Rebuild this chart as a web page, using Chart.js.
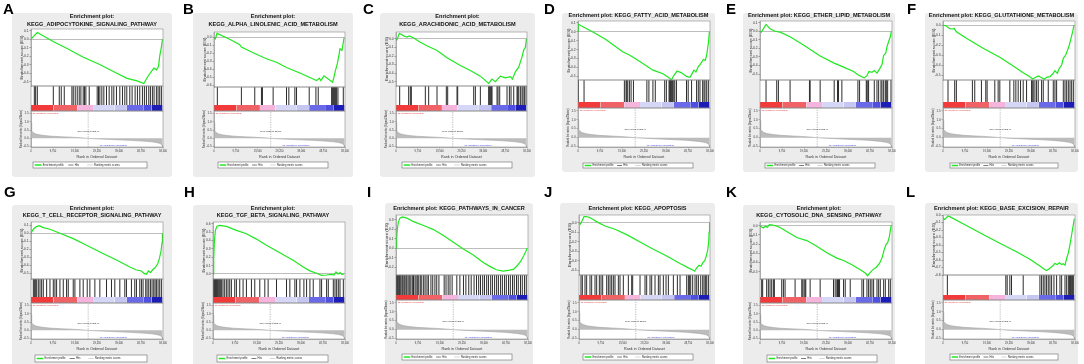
<!DOCTYPE html>
<html><head><meta charset="utf-8">
<script src="https://cdn.jsdelivr.net/npm/chart.js@4/dist/chart.umd.min.js"></script>
<style>
html,body{margin:0;padding:0;background:#fff;}
#wrap{position:relative;width:1084px;height:364px;overflow:hidden;background:#fff;}
#wrap canvas{position:absolute;}
</style></head><body><div id="wrap"></div>
<script>
// ---------------- DATA ----------------
const panelLetters = ['A','B','C','D','E','F','G','H','I','J','K','L'];
const geneSets = ['KEGG_ADIPOCYTOKINE_SIGNALING_PATHWAY','KEGG_ALPHA_LINOLENIC_ACID_METABOLISM','KEGG_ARACHIDONIC_ACID_METABOLISM','KEGG_FATTY_ACID_METABOLISM','KEGG_ETHER_LIPID_METABOLISM','KEGG_GLUTATHIONE_METABOLISM','KEGG_T_CELL_RECEPTOR_SIGNALING_PATHWAY','KEGG_TGF_BETA_SIGNALING_PATHWAY','KEGG_PATHWAYS_IN_CANCER','KEGG_APOPTOSIS','KEGG_CYTOSOLIC_DNA_SENSING_PATHWAY','KEGG_BASE_EXCISION_REPAIR'];

const esRankA = [0,1000,2800,10000,16000,23000,30700,38000,42600,47000,50000,51500,53300,54500,55600,56500,57100,57800,58250];
const esScoreA = [0,0.03,0.078,-0.03,-0.11,-0.21,-0.30,-0.40,-0.46,-0.49,-0.52,-0.45,-0.38,-0.34,-0.36,-0.32,-0.19,-0.09,0.0];
const hitsA = [1470,2060,2800,9880,12530,13410,14740,18130,18720,19600,20490,21370,22110,23140,23730,24320,25800,29330,29920,30510,31400,32280,33460,34640,35820,36700,37880,39360,40540,41570,42450,43780,44810,46140,47170,48200,49380,50260,51150,52180,52920,53800,54540,55570,56310,57040,57780];

const esRankB = [0,600,1340,7010,11490,12230,17460,23420,27900,32380,38340,44310,45800,47000,47740,49090,51030,52970,53560,54160,55050,55800,56250,57140,57740,58100];
const esScoreB = [0,-0.016,0.053,-0.02,-0.09,-0.12,-0.19,-0.265,-0.31,-0.375,-0.445,-0.52,-0.54,-0.51,-0.54,-0.48,-0.52,-0.56,-0.50,-0.42,-0.33,-0.22,-0.14,-0.16,-0.06,0.0];
const hitsB = [1490,12230,18200,21190,21630,26410,32380,33420,36110,36850,42520,45510,46550,52520,52970,53410,53860,54310,54760,55350,57740];

const esRankC = [0,450,1490,3420,4910,5960,7890,10870,13850,18310,22780,28740,33200,37670,41390,42880,44370,46610,48840,51070,51970,53310,54800,56280,57030,57770,58250];
const esScoreC = [0,-0.01,0.065,0.035,0.02,0.035,0.01,-0.04,-0.08,-0.135,-0.22,-0.31,-0.37,-0.435,-0.52,-0.47,-0.50,-0.435,-0.455,-0.44,-0.47,-0.385,-0.33,-0.21,-0.13,-0.10,0.0];
const hitsC = [1640,5660,6400,6850,13100,14590,18310,22480,23080,27250,27550,34690,35440,37670,41390,41690,42140,42590,42880,45120,45560,46310,49580,50630,51370,52570,54050,54350,54800,55540,56280,56730,57330,58070];

const esRankD = [0,150,1190,6400,12360,19800,22780,27250,33200,37670,40350,41390,42440,43930,45860,48090,49580,50330,51370,52260,53310,54350,55540,56430,57030,57770,58220];
const esScoreD = [0,0.086,0.07,0.0,-0.086,-0.225,-0.26,-0.33,-0.43,-0.47,-0.515,-0.54,-0.49,-0.44,-0.46,-0.50,-0.51,-0.48,-0.43,-0.45,-0.39,-0.36,-0.31,-0.32,-0.26,-0.13,0.0];
const hitsD = [150,2680,20550,21290,21590,22040,22780,23530,24570,30520,31420,33200,34250,38420,39160,40350,40650,40950,41390,41840,42440,42880,43630,48090,48840,50330,52560,53310,54050,55240,55840,56280,57030,57770];

const esRankE = [0,590,2670,4440,6660,8890,13330,19250,26660,32580,37030,41470,43690,46210,47390,48280,49610,50650,51840,53020,54060,54800,55690,56280,57020,57760,58200];
const esScoreE = [0,-0.01,0.08,0.03,0.0,-0.01,-0.065,-0.16,-0.29,-0.37,-0.42,-0.47,-0.515,-0.545,-0.52,-0.47,-0.48,-0.46,-0.49,-0.44,-0.39,-0.28,-0.26,-0.18,-0.12,-0.065,0.0];
const hitsE = [2670,7410,8150,13330,21920,22220,26660,32880,34360,34800,36280,43390,44130,47100,47390,47840,48130,50650,51840,52580,53610,54060,54800,55540,55980,56570,58050];

const esRankF = [0,1480,2960,4440,4890,5920,10370,17770,25180,31100,35540,38510,39690,40730,42210,43690,44880,45910,47390,48580,49610,50650,51540,52580,53320,54350,55240,55990,56730,57470,58060];
const esScoreF = [0,-0.01,-0.037,-0.04,-0.033,-0.067,-0.133,-0.233,-0.323,-0.41,-0.477,-0.517,-0.54,-0.527,-0.51,-0.527,-0.543,-0.523,-0.517,-0.49,-0.457,-0.483,-0.433,-0.40,-0.333,-0.30,-0.25,-0.20,-0.133,-0.067,0.0];
const hitsF = [2220,5180,5920,13030,14070,17030,18960,19550,22960,24440,25180,29620,31400,32290,33320,34360,35540,37030,39250,39540,39990,40730,41470,42210,43690,44430,46650,48870,49610,50350,53320,54060,54800,55540,56280,57020,57760];

const esRankG = [0,1030,2210,3690,5450,8400,12820,18720,24620,30510,37880,43780,46730,48940,50120,51150,52030,52920,53800,54980,56160,56900,57630,58080,58250];
const esScoreG = [0,0.05,0.08,0.095,0.07,0.05,0.0,-0.067,-0.15,-0.233,-0.333,-0.42,-0.458,-0.47,-0.50,-0.51,-0.47,-0.49,-0.458,-0.43,-0.38,-0.317,-0.22,-0.117,0.0];
const hitsG = [1030,1470,1920,2510,3240,3980,4720,5450,6930,8400,9880,10610,11350,12820,14300,15770,16510,18720,19460,21670,23140,24910,26090,28300,30510,33460,35670,37140,39360,41570,42300,44510,45990,46730,48200,48940,49670,50850,51440,52180,52920,53650,54390,54980,55570,56310,57040,57780];

const esRankH = [0,300,590,1040,1780,2960,5920,10370,14810,19250,23700,29620,35540,39990,42950,45910,48130,50350,52580,53610,54500,55390,56280,57170,58060];
const esScoreH = [0,0.17,0.375,0.52,0.57,0.58,0.567,0.52,0.48,0.416,0.343,0.253,0.163,0.082,0.037,0.008,-0.016,-0.012,-0.004,-0.012,0.024,0.0,0.016,-0.008,0.004];
const hitsH = [300,590,890,1180,1480,1780,2070,2520,2960,3410,3850,4440,5180,5920,6660,7410,8150,9630,10370,11850,13330,14810,17030,18510,20730,22960,24440,28140,32580,34060,36280,37030,38510,40280,41470,42950,44430,47390,48130,50350,51100,53320,54060,54800,55540,56280,57760];

const esRankI = [0,290,590,1030,1760,2790,4850,7790,12200,16610,21020,25430,29840,34250,38660,42340,44540,47480,50420,52190,53660,55130,56600,57480,58070];
const esScoreI = [0,0.1,0.2,0.275,0.317,0.33,0.317,0.28,0.24,0.197,0.134,0.063,-0.007,-0.07,-0.148,-0.2,-0.225,-0.24,-0.229,-0.218,-0.183,-0.14,-0.077,-0.035,0.0];
const hitsI = [150,420,760,1010,1480,1790,2180,2700,3050,3560,3930,4460,4820,5400,6080,6590,7230,7760,8430,8920,9610,10090,10780,11420,12260,12900,13720,14350,15480,16280,17240,18050,19020,21350,22170,23120,23930,24880,26950,28310,29900,30970,32240,33320,34600,35680,36640,37450,38410,39210,40180,40970,41950,42730,43700,44590,45380,46350,47150,48110,48900,49870,50680,51640,52430,53400,54190,55170,55970,56930,57730];

const esRankJ = [0,600,1490,2230,3130,4620,6100,8640,11610,16080,21290,27250,33200,39160,45120,48840,50770,51670,52560,53600,54500,55240,56130,56880,57470,57920,58100,58300];
const esScoreJ = [0,-0.017,0.024,0.063,0.063,0.056,0.035,0.0,-0.035,-0.07,-0.126,-0.203,-0.28,-0.35,-0.43,-0.475,-0.497,-0.51,-0.476,-0.448,-0.458,-0.423,-0.399,-0.35,-0.29,-0.2,-0.1,0.0];
const hitsJ = [890,1490,2680,3420,4910,5660,7150,7890,9080,9830,10570,12360,13100,13850,14590,15340,16080,17570,18310,19800,22040,23530,23970,27250,29480,30220,31710,32460,33950,35440,36180,37670,38860,39910,42140,43930,45120,48090,48840,49290,49880,50770,51820,52560,53310,54350,55240,55840,56430,57030,57770];

const esRankK = [0,740,1480,2520,3260,4150,5630,7410,9630,12590,16290,20730,25180,29620,34060,37030,40730,44430,46650,47690,48870,50060,51540,53020,54210,54950,55840,56570,57320,57910,58200];
const esScoreK = [0,-0.015,-0.026,-0.004,-0.018,0.011,0.007,-0.004,-0.03,-0.074,-0.129,-0.162,-0.224,-0.294,-0.353,-0.379,-0.426,-0.48,-0.515,-0.544,-0.507,-0.478,-0.452,-0.408,-0.342,-0.268,-0.206,-0.184,-0.121,-0.03,0.007];
const hitsK = [740,1180,2960,3700,4440,5180,5920,6370,9630,10370,11110,15550,18510,18960,19550,19990,20290,22220,26660,32580,33320,34060,34360,34800,35250,37030,37770,39990,45170,45910,47390,48130,48870,49610,50350,51840,52580,53320,54800,55540,57020,57760];

const esRankL = [0,740,2220,2960,10370,17770,25180,32580,38510,42950,44730,45910,47100,48580,49610,50650,51540,52580,53320,54060,54800,55540,56280,57020,57760,58200];
const esScoreL = [0,-0.018,0.027,0.018,-0.10,-0.22,-0.336,-0.45,-0.55,-0.64,-0.68,-0.70,-0.677,-0.64,-0.606,-0.62,-0.597,-0.62,-0.61,-0.628,-0.54,-0.465,-0.354,-0.22,-0.088,-0.01];
const hitsL = [1930,27840,28440,29620,30360,35540,42950,43690,44430,45170,45910,46650,47390,48130,49170,50350,51840,52580,54060,54800,55540,55980,56280,56570,57020,57460,57760];

// ranked list metric (shared ranked list)
const rankPositions = [0,150,400,900,1800,3500,6000,9000,13000,18000,22000,25341,29000,34000,39000,44000,48000,51000,53500,55500,56800,57600,58100,58300];
const rankMetric = [0.95,0.6,0.45,0.36,0.28,0.22,0.17,0.13,0.1,0.07,0.035,0.0,-0.03,-0.06,-0.09,-0.12,-0.15,-0.18,-0.21,-0.25,-0.29,-0.34,-0.42,-0.5];
const zeroCross = 25341;
const colorBarStops = [0,10000,20500,27500,37000,42500,50000,53500,58300];
const legendLabels = ['Enrichment profile','Hits','Ranking metric scores'];

const esData = {A:[esRankA,esScoreA,hitsA],B:[esRankB,esScoreB,hitsB],C:[esRankC,esScoreC,hitsC],D:[esRankD,esScoreD,hitsD],E:[esRankE,esScoreE,hitsE],F:[esRankF,esScoreF,hitsF],G:[esRankG,esScoreG,hitsG],H:[esRankH,esScoreH,hitsH],I:[esRankI,esScoreI,hitsI],J:[esRankJ,esScoreJ,hitsJ],K:[esRankK,esScoreK,hitsK],L:[esRankL,esScoreL,hitsL]};

// ---------------- STYLE / LAYOUT ----------------
const colorBarColors = ['#f23a3a','#f06266','#f5b4dc','#d6d6f6','#c6c6f2','#6a6ae8','#4e4ee2','#1c1cb6'];
const GEO = {
 A:{lx:3, box:[12,13,172,177], ty:[16,24], pl:31, pr:163, et:29, eb:86, hb:105, cb:111, rb:147, lg:[33,162,147,168], es:[-0.55,0.12]},
 B:{lx:3, box:[13,13,173,177], ty:[16,24], pl:34, pr:165, et:32, eb:87, hb:105, cb:111, rb:147, lg:[38,162,148,168], es:[-0.62,0.07]},
 C:{lx:3, box:[20,13,175,177], ty:[16,24], pl:36, pr:167, et:32, eb:86, hb:105, cb:111, rb:147, lg:[42,162,152,168], es:[-0.55,0.08]},
 D:{lx:4, box:[22,13,175,172], ty:[15], pl:38, pr:170, et:21, eb:80, hb:102, cb:108, rb:147, lg:[43,163,153,168], es:[-0.54,0.12]},
 E:{lx:6, box:[23,13,175,172], ty:[15], pl:40, pr:172, et:21, eb:80, hb:102, cb:108, rb:147, lg:[45,163,155,168], es:[-0.57,0.12]},
 F:{lx:7, box:[25,13,178,172], ty:[15], pl:43, pr:175, et:21, eb:80, hb:102, cb:108, rb:147, lg:[50,163,158,168], es:[-0.55,0.04]},
 G:{lx:4, box:[12,23,172,190], ty:[26,33], pl:31, pr:163, et:40, eb:97, hb:115, cb:121, rb:157, lg:[35,173,147,180], es:[-0.57,0.14]},
 H:{lx:4, box:[13,23,173,190], ty:[26,33], pl:33, pr:165, et:40, eb:97, hb:115, cb:121, rb:157, lg:[37,173,148,180], es:[-0.06,0.62]},
 I:{lx:7, box:[25,21,173,190], ty:[26], pl:36, pr:168, et:33, eb:93, hb:113, cb:118, rb:157, lg:[42,172,152,178], es:[-0.28,0.35]},
 J:{lx:4, box:[20,21,175,190], ty:[26], pl:39, pr:170, et:33, eb:93, hb:113, cb:118, rb:157, lg:[43,172,153,178], es:[-0.55,0.08]},
 K:{lx:6, box:[23,23,175,190], ty:[26,33], pl:40, pr:172, et:40, eb:97, hb:115, cb:121, rb:157, lg:[47,173,157,180], es:[-0.58,0.04]},
 L:{lx:6, box:[25,21,178,190], ty:[26], pl:43, pr:175, et:33, eb:93, hb:113, cb:118, rb:157, lg:[50,172,158,178], es:[-0.76,0.04]}
};
const FAM = '"Liberation Sans", Arial, Helvetica, sans-serif';
Chart.defaults.font.family = FAM;
const X_MAX = 58500, RANK_MIN = -0.52, RANK_MAX = 1.65, YW = 12, XH = 12;
const fmt1 = v => (Math.abs(v) < 1e-9 ? 0 : v).toFixed(1);

function rrect(ctx, x0, y0, x1, y1, r) {
  ctx.beginPath();
  ctx.moveTo(x0 + r, y0); ctx.lineTo(x1 - r, y0); ctx.quadraticCurveTo(x1, y0, x1, y0 + r);
  ctx.lineTo(x1, y1 - r); ctx.quadraticCurveTo(x1, y1, x1 - r, y1);
  ctx.lineTo(x0 + r, y1); ctx.quadraticCurveTo(x0, y1, x0, y1 - r);
  ctx.lineTo(x0, y0 + r); ctx.quadraticCurveTo(x0, y0, x0 + r, y0); ctx.closePath();
}

function makePanel(idx) {
  const id = panelLetters[idx], g = GEO[id];
  const col = idx % 6, row = Math.floor(idx / 6);
  const W = col === 5 ? 184 : 180, H = 182;
  const cv = document.createElement('canvas');
  cv.width = W; cv.height = H;
  cv.style.left = (col * 180) + 'px'; cv.style.top = (row * 182) + 'px';
  cv.style.width = W + 'px'; cv.style.height = H + 'px';
  document.getElementById('wrap').appendChild(cv);
  const [esX, esY, hits] = esData[id];

  const datasets = [];
  datasets.push({type:'line', label:legendLabels[0], data: esX.map((x,i)=>({x, y: esY[i]})), yAxisID:'yES',
    borderColor:'#1fe81f', borderWidth:1.2, pointRadius:0, tension:0, fill:false});
  datasets.push({type:'bar', label:legendLabels[1], data: hits.map(x=>({x, y:1})), yAxisID:'yHit',
    backgroundColor:'#2c2c2c', barThickness:1, inflateAmount:0, grouped:false, borderWidth:0});
  colorBarColors.forEach((c,i)=> datasets.push({type:'line', label:'bar'+i,
    data:[{x:colorBarStops[i],y:1},{x:colorBarStops[i+1],y:1}], yAxisID:'yBar',
    borderWidth:0, pointRadius:0, fill:'origin', backgroundColor:c}));
  datasets.push({type:'line', label:legendLabels[2], data: rankPositions.map((x,i)=>({x, y: rankMetric[i]})), yAxisID:'yRank',
    borderColor:'#a2a2a2', borderWidth:0.6, pointRadius:0, fill:{value:0}, backgroundColor:'#bcbcbc', tension:0});
  datasets.push({type:'line', label:'zero', data:[{x:zeroCross,y:RANK_MIN},{x:zeroCross,y:RANK_MAX}], yAxisID:'yRank',
    borderColor:'#8c8c8c', borderWidth:0.6, borderDash:[1.2,1.2], pointRadius:0, fill:false});

  const fixW = s => { s.width = YW; };
  const decor = {
    id:'decor'+id,
    beforeDraw(chart) {
      const ctx = chart.ctx, ca = chart.chartArea;
      ctx.save();
      ctx.fillStyle = '#ececec';
      rrect(ctx, g.box[0], g.box[1], g.box[2], g.box[3], 3); ctx.fill();
      ctx.fillStyle = '#ffffff';
      ctx.fillRect(ca.left, ca.top, ca.right - ca.left, ca.bottom - ca.top);
      ctx.fillStyle = '#000';
      ctx.font = 'bold 15px ' + FAM; ctx.textAlign = 'left'; ctx.textBaseline = 'alphabetic';
      ctx.fillText(id, g.lx, row ? 15 : 14);
      ctx.fillStyle = '#111'; ctx.font = 'bold 5.6px ' + FAM; ctx.textAlign = 'center'; ctx.textBaseline = 'middle';
      const cx = (g.box[0] + g.box[2]) / 2;
      if (g.ty.length === 2) { ctx.fillText('Enrichment plot:', cx, g.ty[0]); ctx.fillText(geneSets[idx], cx, g.ty[1]); }
      else ctx.fillText('Enrichment plot: ' + geneSets[idx], cx, g.ty[0]);
      ctx.restore();
    },
    afterDraw(chart) {
      const ctx = chart.ctx, ca = chart.chartArea, s = chart.scales;
      ctx.save();
      ctx.strokeStyle = '#8a8a8a'; ctx.lineWidth = 0.6;
      const w = ca.right - ca.left;
      ctx.strokeRect(ca.left, s.yES.top, w, s.yES.bottom - s.yES.top);
      ctx.strokeRect(ca.left, s.yHit.top, w, s.yBar.bottom - s.yHit.top);
      ctx.strokeRect(ca.left, s.yRank.top, w, s.yRank.bottom - s.yRank.top);
      // annotations in ranked plot
      ctx.font = '2.4px ' + FAM; ctx.textAlign = 'center'; ctx.textBaseline = 'middle'; ctx.fillStyle = '#333';
      ctx.fillText('Zero cross at ' + zeroCross, s.x.getPixelForValue(zeroCross), s.yRank.getPixelForValue(0.45));
      ctx.textAlign = 'left'; ctx.textBaseline = 'top'; ctx.fillStyle = '#e23030';
      ctx.fillText("'t2' (positively correlated)", ca.left + 1.5, s.yRank.top + 0.8);
      ctx.textBaseline = 'bottom'; ctx.fillStyle = '#3434e0';
      ctx.fillText("'t1' (negatively correlated)", s.x.getPixelForValue(30500), s.yRank.bottom - 0.8);
      // legend
      const [x0,y0,x1,y1] = g.lg, lw = x1 - x0, ym = (y0 + y1) / 2;
      ctx.fillStyle = '#fff'; ctx.fillRect(x0, y0, lw, y1 - y0);
      ctx.strokeStyle = '#6a6a6a'; ctx.lineWidth = 0.6; ctx.strokeRect(x0, y0, lw, y1 - y0);
      const items = [[0.015,0.075,'#1fe81f',1.5],[0.31,0.355,'#222',0.6],[0.475,0.525,'#c4c4c4',0.7]];
      ctx.font = '2.6px ' + FAM; ctx.textBaseline = 'middle'; ctx.fillStyle = '#222';
      items.forEach((it,k) => {
        ctx.strokeStyle = it[2]; ctx.lineWidth = it[3];
        ctx.beginPath(); ctx.moveTo(x0 + lw*it[0], ym); ctx.lineTo(x0 + lw*it[1], ym); ctx.stroke();
        ctx.fillText(legendLabels[k], x0 + lw*it[1] + 1.2, ym);
      });
      ctx.restore();
    }
  };

  new Chart(cv, {
    type:'line',
    data:{datasets},
    options:{
      responsive:false, animation:false, devicePixelRatio:1,
      layout:{padding:{left: g.pl - YW, top: g.et, right: W - g.pr, bottom: H - g.rb - XH}},
      plugins:{legend:{display:false}, title:{display:false}, tooltip:{enabled:false}},
      scales:{
        x:{type:'linear', position:'bottom', min:0, max:X_MAX, offset:false,
           afterFit: s => { s.height = XH; },
           ticks:{stepSize:10000, includeBounds:false, autoSkip:false, maxRotation:0, padding:0.8,
                  font:{size:2.6}, color:'#333', callback: v => v.toLocaleString('en-US')},
           grid:{display:true, offset:false, drawOnChartArea:false, drawTicks:true, tickLength:1.5, color:'#777', lineWidth:0.5},
           border:{display:true, color:'#8a8a8a', width:0.6},
           title:{display:true, text:'Rank in Ordered Dataset', font:{size:3.7}, color:'#333', padding:0}},
        yRank:{type:'linear', position:'left', stack:'p', stackWeight: g.rb - g.cb, weight:1,
           min:RANK_MIN, max:RANK_MAX, afterFit: fixW,
           ticks:{stepSize:0.5, includeBounds:false, autoSkip:false, font:{size:3}, color:'#333', padding:0.8, callback: fmt1},
           grid:{drawOnChartArea:false, drawTicks:true, tickLength:1.5, color:'#777', lineWidth:0.5},
           border:{display:true, color:'#8a8a8a', width:0.6},
           title:{display:true, text:'Ranked list metric (Signal2Noise)', font:{size:2.6}, color:'#333', padding:{top:0.5,bottom:0}}},
        yBar:{type:'linear', position:'left', stack:'p', stackWeight: g.cb - g.hb, weight:2, min:0, max:1,
           afterFit: fixW, ticks:{display:false}, grid:{display:false}, border:{display:false}},
        yHit:{type:'linear', position:'left', stack:'p', stackWeight: g.hb - g.eb, weight:3, min:0, max:1,
           afterFit: fixW, ticks:{display:false}, grid:{display:false}, border:{display:false}},
        yES:{type:'linear', position:'left', stack:'p', stackWeight: g.eb - g.et, weight:4,
           min:g.es[0], max:g.es[1], afterFit: fixW,
           ticks:{stepSize:0.1, includeBounds:false, autoSkip:false, font:{size:3.3}, color:'#333', padding:0.8, callback: fmt1},
           grid:{drawTicks:true, tickLength:1.5, tickColor:'#777', lineWidth:0.7,
                 color: c => (c.tick && Math.abs(c.tick.value) < 1e-9) ? '#a0a0a0' : 'rgba(0,0,0,0)'},
           border:{display:true, color:'#8a8a8a', width:0.6},
           title:{display:true, text:'Enrichment score (ES)', font:{size:4.4}, color:'#333', padding:{top:0,bottom:0}}}
      }
    },
    plugins:[decor]
  });
}
for (let i = 0; i < 12; i++) makePanel(i);
</script>
</body></html>
